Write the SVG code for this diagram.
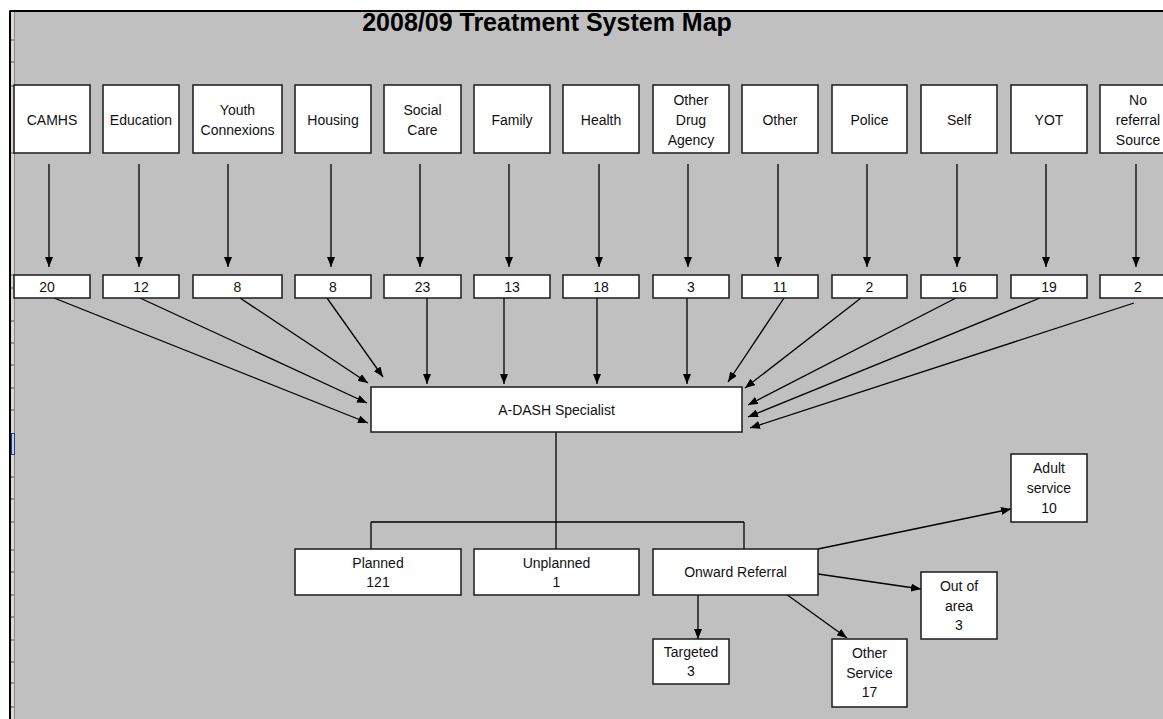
<svg xmlns="http://www.w3.org/2000/svg" width="1163" height="719" viewBox="0 0 1163 719">
<defs>
<marker id="arr" markerUnits="userSpaceOnUse" markerWidth="10" markerHeight="8" refX="10" refY="4" orient="auto">
<path d="M0,0 L10,4 L0,8 z" fill="#000"/>
</marker>
<style>
.box{fill:#fff;stroke:#1a1a1a;stroke-width:1.5}
.t{font-family:"Liberation Sans",Arial,sans-serif;font-size:14px;fill:#111;text-anchor:middle}
.ttl{font-family:"Liberation Sans",Arial,sans-serif;font-size:25px;font-weight:bold;fill:#000;text-anchor:middle}
.c{stroke:#000;stroke-width:1.3;fill:none}
.a{stroke:#000;stroke-width:1.3;fill:none;marker-end:url(#arr)}
.tick{stroke:#555;stroke-width:1}
</style>
</defs>
<rect x="0" y="0" width="1163" height="719" fill="#fff"/>
<rect x="10" y="11" width="1153" height="708" fill="#c0c0c0"/>
<rect x="11" y="12" width="3" height="707" fill="#dcd8cf"/>
<line x1="14.5" y1="12" x2="14.5" y2="719" stroke="#8a8a8a" stroke-width="1"/>
<g id="row-ticks">
<line class="tick" x1="11" y1="40" x2="14" y2="40"/>
<line class="tick" x1="11" y1="62" x2="14" y2="62"/>
<line class="tick" x1="11" y1="86" x2="14" y2="86"/>
<line class="tick" x1="11" y1="153" x2="14" y2="153"/>
<line class="tick" x1="11" y1="275" x2="14" y2="275"/>
<line class="tick" x1="11" y1="288" x2="14" y2="288"/>
<line class="tick" x1="11" y1="321" x2="14" y2="321"/>
<line class="tick" x1="11" y1="343" x2="14" y2="343"/>
<line class="tick" x1="11" y1="365" x2="14" y2="365"/>
<line class="tick" x1="11" y1="388" x2="14" y2="388"/>
<line class="tick" x1="11" y1="410" x2="14" y2="410"/>
<line class="tick" x1="11" y1="477" x2="14" y2="477"/>
<line class="tick" x1="11" y1="499" x2="14" y2="499"/>
<line class="tick" x1="11" y1="522" x2="14" y2="522"/>
<line class="tick" x1="11" y1="550" x2="14" y2="550"/>
<line class="tick" x1="11" y1="572" x2="14" y2="572"/>
<line class="tick" x1="11" y1="595" x2="14" y2="595"/>
<line class="tick" x1="11" y1="617" x2="14" y2="617"/>
<line class="tick" x1="11" y1="640" x2="14" y2="640"/>
<line class="tick" x1="11" y1="662" x2="14" y2="662"/>
<line class="tick" x1="11" y1="683" x2="14" y2="683"/>
<line class="tick" x1="11" y1="707" x2="14" y2="707"/>
<rect x="11.5" y="433.5" width="3" height="21" fill="#c8cfe6" stroke="#1f3fa0" stroke-width="1"/>
</g>
<line x1="9.5" y1="11" x2="1163" y2="11" stroke="#000" stroke-width="2"/>
<line x1="10" y1="11" x2="10" y2="719" stroke="#000" stroke-width="2"/>
<text class="ttl" x="547" y="31">2008/09 Treatment System Map</text>

<g id="connectors">
<line class="a" x1="49" y1="164" x2="49" y2="267"/>
<line class="a" x1="139" y1="164" x2="139" y2="267"/>
<line class="a" x1="228" y1="164" x2="228" y2="267"/>
<line class="a" x1="331" y1="164" x2="331" y2="267"/>
<line class="a" x1="420" y1="164" x2="420" y2="267"/>
<line class="a" x1="509" y1="164" x2="509" y2="267"/>
<line class="a" x1="599" y1="164" x2="599" y2="267"/>
<line class="a" x1="688" y1="164" x2="688" y2="267"/>
<line class="a" x1="778" y1="164" x2="778" y2="267"/>
<line class="a" x1="867" y1="164" x2="867" y2="267"/>
<line class="a" x1="957" y1="164" x2="957" y2="267"/>
<line class="a" x1="1046" y1="164" x2="1046" y2="267"/>
<line class="a" x1="1136" y1="164" x2="1136" y2="267"/>

<line class="a" x1="54" y1="298" x2="368" y2="423"/>
<line class="a" x1="140" y1="298" x2="367" y2="403"/>
<line class="a" x1="240" y1="298" x2="368" y2="383"/>
<line class="a" x1="327" y1="298" x2="383" y2="377"/>
<line class="a" x1="427" y1="298" x2="427" y2="384"/>
<line class="a" x1="504" y1="298" x2="504" y2="384"/>
<line class="a" x1="597" y1="298" x2="597" y2="384"/>
<line class="a" x1="687" y1="298" x2="687" y2="384"/>
<line class="a" x1="784" y1="298" x2="728" y2="382"/>
<line class="a" x1="861" y1="298" x2="745" y2="388"/>
<line class="a" x1="956" y1="298" x2="748" y2="405"/>
<line class="a" x1="1040" y1="298" x2="748" y2="417"/>
<line class="a" x1="1134" y1="303" x2="750" y2="428"/>

<line class="c" x1="556" y1="432" x2="556" y2="549"/>
<line class="c" x1="371" y1="522" x2="744" y2="522"/>
<line class="c" x1="371" y1="522" x2="371" y2="549"/>
<line class="c" x1="744" y1="522" x2="744" y2="550"/>

<line class="a" x1="818" y1="549" x2="1011" y2="509"/>
<line class="a" x1="818" y1="574" x2="921" y2="589"/>
<line class="a" x1="786" y1="594" x2="847" y2="638"/>
<line class="a" x1="698" y1="595" x2="698" y2="639"/>
</g>

<g id="src-camhs"><rect class="box" x="14" y="85" width="76" height="68"/><text class="t" x="52" y="125">CAMHS</text></g>
<g id="src-education"><rect class="box" x="103" y="85" width="76" height="68"/><text class="t" x="141" y="125">Education</text></g>
<g id="src-youth"><rect class="box" x="193" y="85" width="89" height="68"/><text class="t" x="237.5" y="115">Youth</text><text class="t" x="237.5" y="135">Connexions</text></g>
<g id="src-housing"><rect class="box" x="295" y="85" width="76" height="68"/><text class="t" x="333" y="125">Housing</text></g>
<g id="src-social"><rect class="box" x="384" y="85" width="77" height="68"/><text class="t" x="422.5" y="115">Social</text><text class="t" x="422.5" y="135">Care</text></g>
<g id="src-family"><rect class="box" x="474" y="85" width="76" height="68"/><text class="t" x="512" y="125">Family</text></g>
<g id="src-health"><rect class="box" x="563" y="85" width="76" height="68"/><text class="t" x="601" y="125">Health</text></g>
<g id="src-oda"><rect class="box" x="653" y="85" width="76" height="68"/><text class="t" x="691" y="105">Other</text><text class="t" x="691" y="125">Drug</text><text class="t" x="691" y="145">Agency</text></g>
<g id="src-other"><rect class="box" x="742" y="85" width="76" height="68"/><text class="t" x="780" y="125">Other</text></g>
<g id="src-police"><rect class="box" x="832" y="85" width="75" height="68"/><text class="t" x="869.5" y="125">Police</text></g>
<g id="src-self"><rect class="box" x="921" y="85" width="76" height="68"/><text class="t" x="959" y="125">Self</text></g>
<g id="src-yot"><rect class="box" x="1011" y="85" width="76" height="68"/><text class="t" x="1049" y="125">YOT</text></g>
<g id="src-noref"><rect class="box" x="1100" y="85" width="76" height="68"/><text class="t" x="1138" y="105">No</text><text class="t" x="1138" y="125">referral</text><text class="t" x="1138" y="145">Source</text></g>

<g id="val-camhs"><rect class="box" x="14" y="275" width="76" height="23"/><text class="t" x="47" y="292">20</text></g>
<g id="val-education"><rect class="box" x="103" y="275" width="76" height="23"/><text class="t" x="141" y="292">12</text></g>
<g id="val-youth"><rect class="box" x="193" y="275" width="89" height="23"/><text class="t" x="237.5" y="292">8</text></g>
<g id="val-housing"><rect class="box" x="295" y="275" width="76" height="23"/><text class="t" x="333" y="292">8</text></g>
<g id="val-social"><rect class="box" x="384" y="275" width="77" height="23"/><text class="t" x="422.5" y="292">23</text></g>
<g id="val-family"><rect class="box" x="474" y="275" width="76" height="23"/><text class="t" x="512" y="292">13</text></g>
<g id="val-health"><rect class="box" x="563" y="275" width="76" height="23"/><text class="t" x="601" y="292">18</text></g>
<g id="val-oda"><rect class="box" x="653" y="275" width="76" height="23"/><text class="t" x="691" y="292">3</text></g>
<g id="val-other"><rect class="box" x="742" y="275" width="76" height="23"/><text class="t" x="780" y="292">11</text></g>
<g id="val-police"><rect class="box" x="832" y="275" width="75" height="23"/><text class="t" x="869.5" y="292">2</text></g>
<g id="val-self"><rect class="box" x="921" y="275" width="76" height="23"/><text class="t" x="959" y="292">16</text></g>
<g id="val-yot"><rect class="box" x="1011" y="275" width="76" height="23"/><text class="t" x="1049" y="292">19</text></g>
<g id="val-noref"><rect class="box" x="1100" y="275" width="76" height="23"/><text class="t" x="1138" y="292">2</text></g>

<g id="adash"><rect class="box" x="371" y="387" width="371" height="45"/><text class="t" x="556.5" y="415">A-DASH Specialist</text></g>
<g id="planned"><rect class="box" x="295" y="549" width="166" height="46"/><text class="t" x="378" y="568">Planned</text><text class="t" x="378" y="587">121</text></g>
<g id="unplanned"><rect class="box" x="474" y="549" width="165" height="46"/><text class="t" x="556.5" y="568">Unplanned</text><text class="t" x="556.5" y="587">1</text></g>
<g id="onward"><rect class="box" x="653" y="549" width="165" height="46"/><text class="t" x="735.5" y="577">Onward Referral</text></g>
<g id="adult"><rect class="box" x="1011" y="454" width="76" height="68"/><text class="t" x="1049" y="473">Adult</text><text class="t" x="1049" y="493">service</text><text class="t" x="1049" y="513">10</text></g>
<g id="outofarea"><rect class="box" x="921" y="572" width="76" height="67"/><text class="t" x="959" y="591">Out of</text><text class="t" x="959" y="611">area</text><text class="t" x="959" y="630">3</text></g>
<g id="otherservice"><rect class="box" x="832" y="639" width="75" height="68"/><text class="t" x="869.5" y="658">Other</text><text class="t" x="869.5" y="678">Service</text><text class="t" x="869.5" y="697">17</text></g>
<g id="targeted"><rect class="box" x="653" y="639" width="76" height="45"/><text class="t" x="691" y="657">Targeted</text><text class="t" x="691" y="676">3</text></g>
</svg>
